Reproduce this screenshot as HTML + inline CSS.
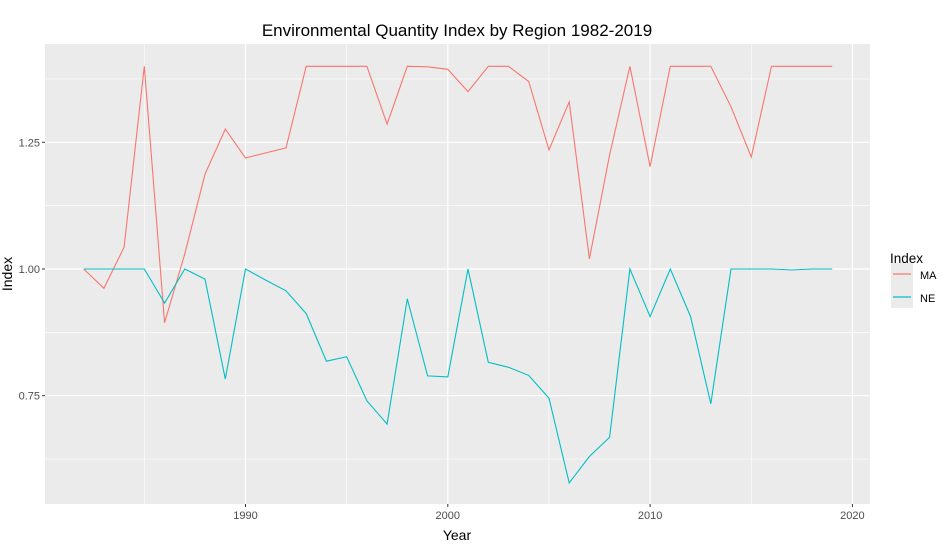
<!DOCTYPE html>
<html><head><meta charset="utf-8"><style>
html,body{margin:0;padding:0;background:#fff;}
svg{display:block;font-family:"Liberation Sans",Arial,sans-serif;}
</style></head><body>
<svg id="chart" width="944" height="555">
<rect x="0" y="0" width="944" height="555" fill="#fff"/>
<rect x="45" y="44" width="825" height="460" fill="#ebebeb"/>
<g id="grid"></g>
<g id="series"></g>
<g id="axes"></g>
<text x="457" y="36" text-anchor="middle" font-size="17" fill="#000">Environmental Quantity Index by Region 1982-2019</text>
<text x="457" y="540" text-anchor="middle" font-size="14" fill="#000">Year</text>
<text transform="translate(12,274) rotate(-90)" text-anchor="middle" font-size="14" fill="#000">Index</text>
<g>
<text x="890" y="263" font-size="13.5" fill="#000">Index</text>
<rect x="891" y="263" width="22" height="45" fill="#ebebeb"/>
<g><line x1="893" y1="274" x2="911" y2="274" stroke="#F8766D" stroke-width="1.2"/><text x="920" y="279" font-size="11" fill="#000">MA</text></g>
<g><line x1="893" y1="297" x2="911" y2="297" stroke="#00BFC4" stroke-width="1.2"/><text x="920" y="302" font-size="11" fill="#000">NE</text></g>
</g>
</svg>
<script>
const years = [1982,1983,1984,1985,1986,1987,1988,1989,1990,1991,1992,1993,1994,1995,1996,1997,1998,1999,2000,2001,2002,2003,2004,2005,2006,2007,2008,2009,2010,2011,2012,2013,2014,2015,2016,2017,2018,2019];
const maValues = [1.00,0.962,1.043,1.40,0.894,1.03,1.187,1.276,1.219,1.229,1.239,1.40,1.40,1.40,1.40,1.286,1.40,1.399,1.394,1.35,1.40,1.40,1.37,1.235,1.33,1.02,1.225,1.40,1.202,1.40,1.40,1.40,1.32,1.221,1.40,1.40,1.40,1.40];
const neValues = [1.00,1.00,1.00,1.00,0.933,1.00,0.98,0.783,1.00,0.978,0.957,0.912,0.818,0.827,0.74,0.694,0.941,0.789,0.787,1.00,0.816,0.806,0.79,0.745,0.578,0.63,0.668,1.00,0.906,1.00,0.906,0.734,1.00,1.00,1.00,0.998,1.00,1.00];
const xTicks = [1990,2000,2010,2020];
const xMinor = [1985,1995,2005,2015];
const yTicks = [0.75,1.00,1.25];
const yTickLabels = ["0.75","1.00","1.25"];
const yMinor = [0.625,0.875,1.125,1.375];

const NS="http://www.w3.org/2000/svg";
const L=45,R=870,T=44,B=504;
function xs(v){return 245.5+(v-1990)*20.23;}
function ys(v){return 269-(v-1)*506.8;}
function mk(tag,attrs,parent){const e=document.createElementNS(NS,tag);for(const k in attrs)e.setAttribute(k,attrs[k]);parent.appendChild(e);return e;}
const grid=document.getElementById('grid'),axes=document.getElementById('axes'),ser=document.getElementById('series');
xMinor.forEach(v=>{const l=mk('line',{x1:xs(v),x2:xs(v),y1:T,y2:B,stroke:'#fff','stroke-width':0.6},grid);

});
yMinor.forEach(v=>{const l=mk('line',{x1:L,x2:R,y1:ys(v),y2:ys(v),stroke:'#fff','stroke-width':0.6},grid);

});
xTicks.forEach(v=>{const l=mk('line',{x1:xs(v),x2:xs(v),y1:T,y2:B,stroke:'#fff','stroke-width':1.2},grid);


const t=mk('line',{x1:xs(v),x2:xs(v),y1:B,y2:B+3,stroke:'#333','stroke-width':1},axes);


const tx=mk('text',{x:xs(v),y:B+15,'text-anchor':'middle','font-size':11,fill:'#4d4d4d'},axes);tx.textContent=v;

});
yTicks.forEach((v,i)=>{const l=mk('line',{x1:L,x2:R,y1:ys(v),y2:ys(v),stroke:'#fff','stroke-width':1.2},grid);


const t=mk('line',{x1:L-3,x2:L,y1:ys(v),y2:ys(v),stroke:'#333','stroke-width':1},axes);


const tx=mk('text',{x:L-5,y:ys(v)+4,'text-anchor':'end','font-size':11,fill:'#4d4d4d'},axes);tx.textContent=yTickLabels[i];

});
function line(vals,color,name){const d=vals.map((v,i)=>(i?'L':'M')+xs(years[i]).toFixed(1)+','+ys(v).toFixed(1)).join(' ');
const p=mk('path',{d:d,fill:'none',stroke:color,'stroke-width':1.1},ser);

}
line(maValues,'#F8766D','ma-line');
line(neValues,'#00BFC4','ne-line');
</script>
</body></html>
